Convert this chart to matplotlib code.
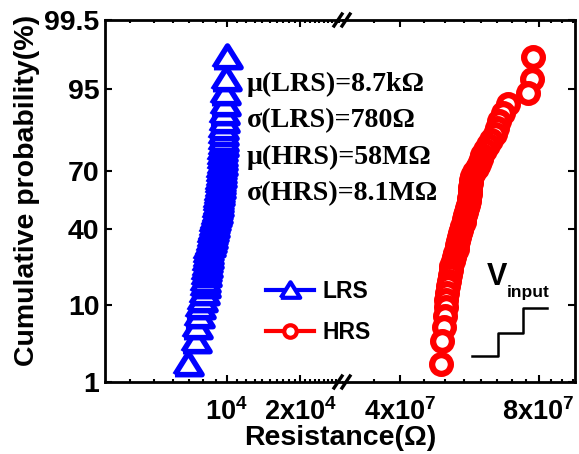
import numpy as np
import matplotlib
matplotlib.use("Agg")
import matplotlib.pyplot as plt
from matplotlib.lines import Line2D
from statistics import NormalDist

# resistance values (sorted, one per point)
lrs = [6940, 7480, 7550, 7660, 7770, 7920, 8070, 8110, 8150, 8180,
       8220, 8260, 8300, 8340, 8380, 8400, 8500, 8580, 8660, 8700,
       8790, 8830, 8870, 8950, 9040, 9080, 9120, 9170, 9210, 9210,
       9250, 9300, 9340, 9390, 9390, 9430, 9480, 9480, 9520, 9520,
       9570, 9570, 9610, 9610, 9660, 9660, 9700, 9750, 9790, 9840,
       9930, 9980]
hrs = [4.90e7, 4.93e7, 4.97e7, 5.01e7, 5.03e7, 5.03e7, 5.06e7, 5.08e7, 5.11e7, 5.14e7,
       5.15e7, 5.16e7, 5.20e7, 5.24e7, 5.27e7, 5.30e7, 5.32e7, 5.35e7, 5.38e7, 5.40e7,
       5.43e7, 5.46e7, 5.49e7, 5.51e7, 5.54e7, 5.57e7, 5.60e7, 5.61e7, 5.63e7, 5.64e7,
       5.66e7, 5.67e7, 5.68e7, 5.70e7, 5.71e7, 5.74e7, 5.80e7, 5.86e7, 5.92e7, 5.98e7,
       6.01e7, 6.10e7, 6.20e7, 6.29e7, 6.42e7, 6.49e7, 6.55e7, 6.69e7, 6.86e7, 7.59e7,
       7.75e7, 7.79e7]

yticks = [1, 10, 40, 70, 95, 99.5]
ytick_labels = ["1", "10", "40", "70", "95", "99.5"]
left_ticks = [1e4, 2e4]
left_labels = ["$10^4$", "$2x10^4$"]
left_minor = [4000, 5000, 6000, 7000, 8000, 9000, 11000, 12000, 13000, 14000,
              15000, 16000, 17000, 18000, 19000, 21000, 22000, 23000, 24000,
              25000, 26000, 27000, 28000, 29000]
right_ticks = [4e7, 8e7]
right_labels = ["$4x10^7$", "$8x10^7$"]
right_minor = [3.5e7, 4.5e7, 5e7, 5.5e7, 6e7, 6.5e7, 7e7, 7.5e7, 8.5e7, 9e7, 9.5e7]
stats_text = ["μ(LRS)=8.7kΩ", "σ(LRS)=780Ω", "μ(HRS)=58MΩ", "σ(HRS)=8.1MΩ"]

plt.rcParams["font.family"] = "Liberation Sans"
plt.rcParams["font.weight"] = "bold"
plt.rcParams["mathtext.fontset"] = "custom"
plt.rcParams["mathtext.rm"] = "Liberation Sans:bold"
plt.rcParams["mathtext.it"] = "Liberation Sans:bold"
plt.rcParams["mathtext.bf"] = "Liberation Sans:bold"
plt.rcParams["mathtext.default"] = "rm"

nd = NormalDist()
_fwd = np.vectorize(lambda v: nd.inv_cdf(min(max(v, 1e-6), 100 - 1e-6) / 100), otypes=[float])
_inv = np.vectorize(lambda v: nd.cdf(v) * 100, otypes=[float])

def fwd(p):
    return _fwd(np.asarray(p, float))

def inv(z):
    return _inv(np.asarray(z, float))

# plotting positions (rank based)
n = len(lrs)
prob = [100.0 * (i + 1) / (n + 1) for i in range(n)]

W, H = 579, 454
fig = plt.figure(figsize=(W / 100, H / 100), dpi=100)
bottom = 1 - 382 / H
height = 362 / H
axl = fig.add_axes([105 / W, bottom, 238 / W, height])
axr = fig.add_axes([343 / W, bottom, 232 / W, height])

tri = [(-1, -0.75), (1, -0.75), (0, 0.85), (-1, -0.75)]

axl.plot(lrs, prob, ls="none", marker=tri, ms=19.5, mfc="white", mec="#0000ff", mew=4)
axr.plot(hrs[::-1], prob[::-1], ls="none", marker="o", ms=13.5, mfc="white", mec="#ff0000", mew=4.5)

for ax in (axl, axr):
    ax.set_yscale("function", functions=(fwd, inv))
    ax.set_ylim(1, 99.5)
    ax.set_xscale("log")
    ax.set_yticks(yticks)
    for s in ax.spines.values():
        s.set_linewidth(2)
    ax.tick_params(which="both", direction="in", top=True, width=1.5, labelsize=19.5, pad=12)
    ax.tick_params(which="major", length=5)
    ax.tick_params(which="minor", length=2.5)
    ax.tick_params(axis="y", which="minor", length=0)

axl.set_xlim(3160, 30000)
axl.set_xticks(left_ticks)
axl.set_xticklabels(left_labels)
axl.set_xticks(left_minor, minor=True)
axl.set_xticklabels([], minor=True)
axl.set_yticklabels(ytick_labels)
axl.tick_params(axis="y", pad=4, right=False, labelsize=20.5)
axl.spines["right"].set_visible(False)

axr.set_xlim(3e7, 9.6e7)
axr.set_xticks(right_ticks)
axr.set_xticklabels(right_labels)
axr.set_xticks(right_minor, minor=True)
axr.set_xticklabels([], minor=True)
axr.tick_params(axis="y", left=False, right=True, labelleft=False)
axr.spines["left"].set_visible(False)

# break marks on the x axis
for yb in (20, 382):
    for xc in (338, 346):
        fig.add_artist(Line2D([(xc - 4) / W, (xc + 4) / W],
                              [1 - (yb + 6) / H, 1 - (yb - 6) / H],
                              color="black", lw=2.4))

fig.text(27 / W, 1 - 190 / H, "Cumulative probability(%)", rotation=90,
         ha="center", va="center", fontsize=20.5, fontweight="bold")
fig.text(340 / W, 1 - 438 / H, "Resistance(Ω)", ha="center", va="center",
         fontsize=20.5, fontweight="bold")

for k, s in enumerate(stats_text):
    fig.text(247 / W, 1 - (84 + 36.5 * k) / H, s, ha="left", va="center",
             fontsize=20.2, fontweight="bold", family="Liberation Serif")

handles = [
    Line2D([], [], color="#0000ff", lw=3, marker=tri, ms=14, mfc="white", mew=3),
    Line2D([], [], color="#ff0000", lw=3, marker="o", ms=9, mfc="white", mew=3),
]
fig.legend(handles, ["LRS", "HRS"], loc="center left",
           bbox_to_anchor=(245 / W, 1 - 312 / H), frameon=False,
           prop={"size": 16.5, "weight": "bold"}, handlelength=2.1,
           handletextpad=0.4, labelspacing=0.75)

# V_input step sketch
fig.text(487 / W, 1 - 285 / H, "V", ha="left", va="baseline", fontsize=22, fontweight="bold")
fig.text(507 / W, 1 - 297 / H, "input", ha="left", va="baseline", fontsize=12.5, fontweight="bold")
sx = [472, 498, 498, 523, 523, 547]
sy = [356, 356, 333, 333, 308, 308]
fig.add_artist(Line2D([v / W for v in sx], [1 - v / H for v in sy], color="black", lw=1.8))

fig.savefig("out.png", dpi=100)
